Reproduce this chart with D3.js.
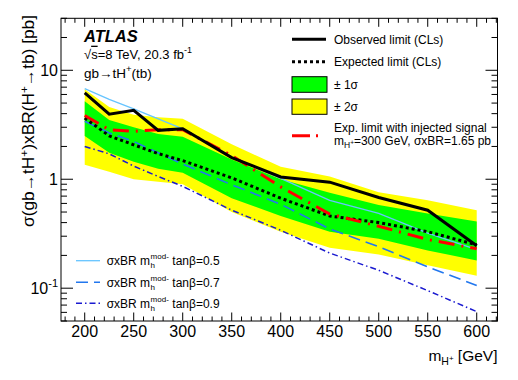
<!DOCTYPE html>
<html><head><meta charset="utf-8">
<script src="https://cdn.jsdelivr.net/npm/d3@7"></script>
<style>
html,body{margin:0;padding:0;background:#fff;}
svg{display:block;font-family:"Liberation Sans",Arial,Helvetica,sans-serif;}
</style></head><body>
<svg id="c" width="518" height="380"></svg>
<script>
// ---- data ----
const masses   = [200, 225, 250, 275, 300, 350, 400, 450, 500, 550, 600];
const observed = [6.2, 3.95, 4.3, 2.81, 2.91, 1.58, 1.05, 0.94, 0.68, 0.52, 0.245];
const expected = [3.65, 2.5, 2.07, 1.72, 1.48, 1.03, 0.67, 0.46, 0.40, 0.33, 0.25];
const plus2    = [6.7, 4.6, 3.9, 3.7, 3.6, 2.1, 1.3, 1.06, 0.76, 0.64, 0.52];
const plus1    = [5.2, 3.5, 3.0, 2.6, 2.45, 1.52, 1.0, 0.75, 0.58, 0.485, 0.41];
const minus1   = [2.5, 1.75, 1.45, 1.25, 1.15, 0.67, 0.46, 0.33, 0.285, 0.222, 0.18];
const minus2   = [1.36, 1.17, 1.0, 0.95, 0.9, 0.5, 0.33, 0.235, 0.204, 0.162, 0.13];
const injected = [3.85, 2.85, 2.75, 2.85, 2.85, 1.65, 0.85, 0.48, 0.37, 0.28, 0.23];
const tanb05   = [6.8, 5.4, 4.43, 3.58, 2.9, 1.6, 1.02, 0.64, 0.485, 0.32, 0.226];
const tanb07   = [3.4, 2.66, 2.22, 1.75, 1.38, 0.89, 0.59, 0.35, 0.24, 0.157, 0.106];
const tanb09   = [2.0, 1.71, 1.32, 1.06, 0.86, 0.52, 0.34, 0.21, 0.146, 0.095, 0.061];
const xTicks = [200, 250, 300, 350, 400, 450, 500, 550, 600];
const yTickLabels = [{v: 0.1, base: "10", sup: "-1"}, {v: 1, base: "1", sup: ""}, {v: 10, base: "10", sup: ""}];

// ---- layout ----
const L = 61, R = 497.5, T = 18.3, B = 321;
const svg = d3.select("#c");
const x = d3.scaleLinear().domain([175.8, 621.2]).range([L, R]);
const y = d3.scaleLog().domain([0.05, 30]).range([B, T]);

svg.append("clipPath").attr("id", "clip").append("rect")
  .attr("x", L).attr("y", T).attr("width", R - L).attr("height", B - T);
const g = svg.append("g").attr("clip-path", "url(#clip)");

const band = (lo, hi) => d3.area().x((d, i) => x(masses[i])).y0((d, i) => y(lo[i])).y1((d, i) => y(hi[i]))(masses);
g.append("path").attr("d", band(minus2, plus2)).attr("fill", "#ffff00");
g.append("path").attr("d", band(minus1, plus1)).attr("fill", "#00ff00");

const line = arr => d3.line().x((d, i) => x(masses[i])).y((d, i) => y(arr[i]))(masses);
const styles = {
  t09: {stroke: "#1a1ad0", w: 1.5, dash: "6,3,1.5,3"},
  t07: {stroke: "#2277ee", w: 1.6, dash: "12,6"},
  t05: {stroke: "#66c4ff", w: 1.3, dash: null},
  exp: {stroke: "#000", w: 3, dash: "3,3"},
  inj: {stroke: "#ff0000", w: 3, dash: "16,7,2,7"},
  obs: {stroke: "#000", w: 3, dash: null}
};
function drawLine(sel, d, s) {
  const p = sel.append("path").attr("d", d).attr("fill", "none")
    .attr("stroke", s.stroke).attr("stroke-width", s.w);
  if (s.dash) p.attr("stroke-dasharray", s.dash);
  return p;
}
drawLine(g, line(tanb09), styles.t09);
drawLine(g, line(tanb07), styles.t07);
drawLine(g, line(tanb05), styles.t05);
drawLine(g, line(expected), styles.exp);
drawLine(g, line(injected), styles.inj);
drawLine(g, line(observed), styles.obs);

// ---- frame and ticks ----
svg.append("rect").attr("x", L).attr("y", T).attr("width", R - L).attr("height", B - T)
  .attr("fill", "none").attr("stroke", "#000").attr("stroke-width", 1);
const tk = svg.append("g").attr("stroke", "#000").attr("stroke-width", 1);
d3.range(180, 621, 10).forEach(m => {
  const major = m % 50 === 0, len = major ? 8.5 : 4.5, px = x(m);
  tk.append("line").attr("x1", px).attr("x2", px).attr("y1", B).attr("y2", B - len);
  tk.append("line").attr("x1", px).attr("x2", px).attr("y1", T).attr("y2", T + len);
});
const yTickVals = [];
[0.01, 0.1, 1, 10].forEach(dec => d3.range(1, 10).forEach(k => {
  const v = dec * k; if (v >= 0.05 && v <= 30.01) yTickVals.push(v);
}));
yTickVals.forEach(v => {
  const major = Math.abs(Math.log10(v) - Math.round(Math.log10(v))) < 1e-6;
  const len = major ? 12 : 6, py = y(v);
  tk.append("line").attr("x1", L).attr("x2", L + len).attr("y1", py).attr("y2", py);
  tk.append("line").attr("x1", R).attr("x2", R - len).attr("y1", py).attr("y2", py);
});

// tick labels
xTicks.forEach(m => {
  svg.append("text").attr("x", x(m)).attr("y", 337).attr("text-anchor", "middle")
    .attr("font-size", 16).text(m);
});
yTickLabels.forEach(t => {
  const tx = svg.append("text").attr("x", 58).attr("y", y(t.v) + 5.6)
    .attr("text-anchor", "end").attr("font-size", 16);
  tx.append("tspan").text(t.base);
  if (t.sup) tx.append("tspan").attr("dy", -6.5).attr("font-size", 11).text(t.sup);
});

// axis titles
const xt = svg.append("text").attr("x", R).attr("y", 361).attr("text-anchor", "end").attr("font-size", 15.5);
xt.append("tspan").text("m");
xt.append("tspan").attr("dy", 4).attr("font-size", 10.5).text("H");
xt.append("tspan").attr("dy", -4).attr("font-size", 8).text("+");
xt.append("tspan").attr("dy", 0).text(" [GeV]");

const yt = svg.append("text").attr("transform", "translate(33.5,15) rotate(-90)")
  .attr("text-anchor", "end").attr("font-size", 16);
yt.append("tspan").text("σ(gb→tH");
yt.append("tspan").attr("dy", -6).attr("font-size", 11).text("+");
yt.append("tspan").attr("dy", 6).text(")xBR(H");
yt.append("tspan").attr("dy", -6).attr("font-size", 11).text("+");
yt.append("tspan").attr("dy", 6).text("→tb) [pb]");
// stretch title to the length measured in the reference
const ytLen = yt.node().getComputedTextLength();
yt.attr("transform", `translate(33.5,15) rotate(-90) scale(${212 / ytLen},1)`);

// ---- ATLAS labels ----
svg.append("text").attr("x", 84).attr("y", 41.5).attr("font-size", 16.5)
  .attr("font-weight", "bold").attr("font-style", "italic").text("ATLAS");
const en = svg.append("text").attr("x", 84).attr("y", 58.7).attr("font-size", 13);
en.append("tspan").text("√");
en.append("tspan").attr("text-decoration", "overline").text("s");
en.append("tspan").text("=8 TeV, 20.3 fb");
en.append("tspan").attr("dy", -5.5).attr("font-size", 9).text("-1");
const pr = svg.append("text").attr("x", 84).attr("y", 77.5).attr("font-size", 13.5);
pr.append("tspan").text("gb→tH");
pr.append("tspan").attr("dy", -5.5).attr("font-size", 9.5).text("+");
pr.append("tspan").attr("dy", 5.5).text("(tb)");

// ---- top-right legend ----
const lg = svg.append("g").attr("font-size", 12);
const lx0 = 292, lx1 = 326, ltx = 334;
drawLine(lg, `M${lx0},39.3H${lx1}`, styles.obs);
lg.append("text").attr("x", ltx).attr("y", 43.6).text("Observed limit (CLs)");
drawLine(lg, `M${lx0},61.7H${lx1}`, styles.exp);
lg.append("text").attr("x", ltx).attr("y", 66).text("Expected limit (CLs)");
lg.append("rect").attr("x", lx0).attr("y", 76.7).attr("width", lx1 - lx0 + 1).attr("height", 15.6)
  .attr("fill", "#00ff00").attr("stroke", "#000").attr("stroke-width", 1);
lg.append("text").attr("x", ltx).attr("y", 88.8).text("± 1σ");
lg.append("rect").attr("x", lx0).attr("y", 99).attr("width", lx1 - lx0 + 1).attr("height", 15.3)
  .attr("fill", "#ffff00").attr("stroke", "#000").attr("stroke-width", 1);
lg.append("text").attr("x", ltx).attr("y", 111).text("± 2σ");
drawLine(lg, `M${lx0},135.7H${lx0 + 26}`, {stroke: "#ff0000", w: 3, dash: "18,6,2,20"});
lg.append("text").attr("x", ltx).attr("y", 131.6).text("Exp. limit with injected signal");
const l2 = lg.append("text").attr("x", ltx).attr("y", 145.3);
l2.append("tspan").text("m");
l2.append("tspan").attr("dy", 3).attr("font-size", 8.5).text("H");
l2.append("tspan").attr("dy", -3).attr("font-size", 6.5).text("+");
l2.append("tspan").attr("dy", 0).text("=300 GeV, σxBR=1.65 pb");

// ---- bottom-left legend ----
const bl = svg.append("g").attr("font-size", 12);
const tanLabels = ["0.5", "0.7", "0.9"];
const tanStyles = [styles.t05, styles.t07, styles.t09];
const rowsY = [260.7, 282.3, 303.3];
rowsY.forEach((ry, i) => {
  drawLine(bl, `M76,${ry}H100`, tanStyles[i]);
  const t1 = bl.append("text").attr("x", 106.7).attr("y", ry + 4.3).text("σxBR m");
  const w1 = t1.node().getComputedTextLength();
  const sx = 106.7 + w1 + 0.5;
  const sup = bl.append("text").attr("x", sx).attr("y", ry - 1.5).attr("font-size", 8).text("mod-");
  bl.append("text").attr("x", sx).attr("y", ry + 7.5).attr("font-size", 8).text("h");
  const w2 = sup.node().getComputedTextLength();
  bl.append("text").attr("x", sx + w2 + 3.5).attr("y", ry + 4.3).text("tanβ=" + tanLabels[i]);
});
</script>
</body></html>
